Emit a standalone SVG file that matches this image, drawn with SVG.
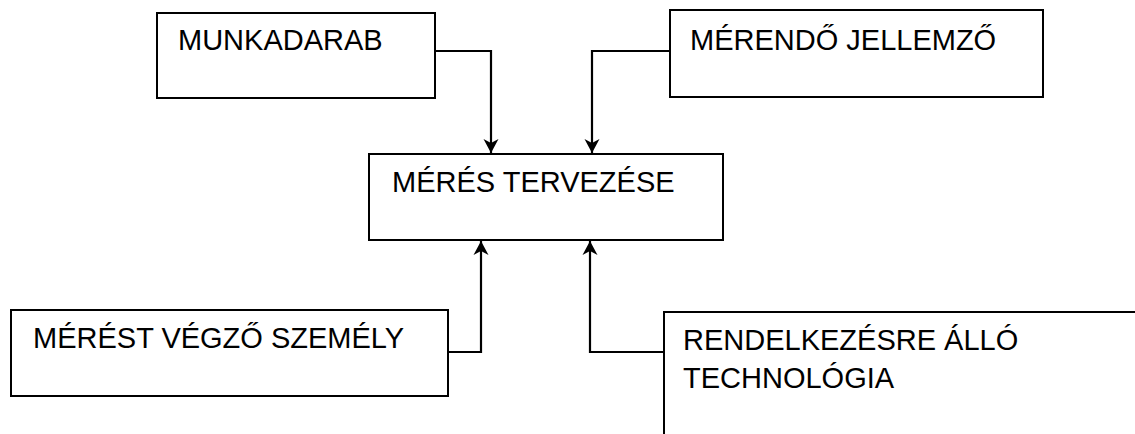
<svg xmlns="http://www.w3.org/2000/svg" width="1135" height="434" viewBox="0 0 1135 434">
  <style>
    .box { fill: #fff; stroke: #000; stroke-width: 2; }
    .open { fill: none; stroke: #000; stroke-width: 2; }
    .lbl { font-family: "Liberation Sans", Arial, sans-serif; font-size: 29px; fill: #000; }
    .wire { fill: none; stroke: #000; stroke-width: 2.2; marker-end: url(#arrow); }
  </style>
  <defs>
    <marker id="arrow" markerUnits="userSpaceOnUse" markerWidth="16" markerHeight="16" refX="15" refY="8" orient="auto">
      <path d="M1,0.5 L15,8 L1,15.5 L5,8 Z" fill="#000"/>
    </marker>
  </defs>
  <rect width="1135" height="434" fill="#fff"/>

  <g id="connectors">
    <path class="wire" d="M435,51 H491 V153"/>
    <path class="wire" d="M670,51 H592 V153"/>
    <path class="wire" d="M448,352 H481 V241"/>
    <path class="wire" d="M664,352 H590 V241"/>
  </g>

  <g id="munkadarab">
    <rect class="box" x="157" y="13" width="278" height="85"/>
    <text class="lbl" x="178" y="50">MUNKADARAB</text>
  </g>

  <g id="merendo-jellemzo">
    <rect class="box" x="670" y="10" width="373" height="87"/>
    <text class="lbl" x="690" y="50">MÉRENDŐ JELLEMZŐ</text>
  </g>

  <g id="meres-tervezese">
    <rect class="box" x="369" y="154" width="354" height="86"/>
    <text class="lbl" x="392" y="192">MÉRÉS TERVEZÉSE</text>
  </g>

  <g id="merest-vegzo-szemely">
    <rect class="box" x="11" y="310" width="437" height="86"/>
    <text class="lbl" x="33" y="348">MÉRÉST VÉGZŐ SZEMÉLY</text>
  </g>

  <g id="rendelkezesre-allo-technologia">
    <path class="open" d="M664,436 V312 H1137"/>
    <text class="lbl" x="683" y="350">RENDELKEZÉSRE ÁLLÓ</text>
    <text class="lbl" x="683" y="388">TECHNOLÓGIA</text>
  </g>
</svg>
